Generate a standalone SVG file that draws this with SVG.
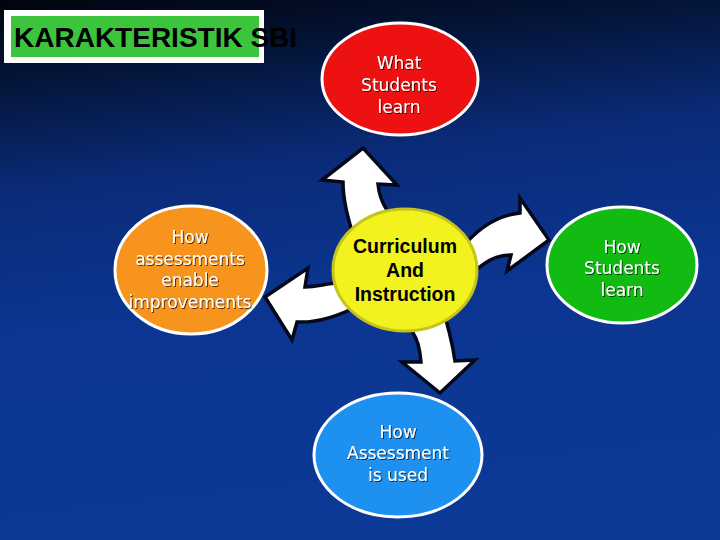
<svg xmlns="http://www.w3.org/2000/svg" width="720" height="540" viewBox="0 0 720 540">
<defs>
<linearGradient id="bg" x1="0" y1="0" x2="0.15" y2="1">
<stop offset="0" stop-color="#01040e"/>
<stop offset="0.15" stop-color="#041539"/>
<stop offset="0.35" stop-color="#0a2b78"/>
<stop offset="0.6" stop-color="#0b3590"/>
<stop offset="1" stop-color="#0c3896"/>
</linearGradient>
<filter id="sh" x="-10%" y="-20%" width="120%" height="140%">
<feDropShadow dx="1" dy="1" stdDeviation="0.4" flood-color="#000" flood-opacity="0.7"/>
</filter>
</defs>
<style>
.node{stroke:#ffffff;stroke-width:3}
.lbl{font-family:"DejaVu Sans","Verdana",sans-serif;font-size:17px;fill:#ffffff;text-anchor:middle;filter:url(#sh)}
.ctr{font-family:"Liberation Sans",Arial,sans-serif;font-weight:bold;font-size:19.5px;fill:#000;text-anchor:middle}
.arr{fill:#ffffff;stroke:#05081a;stroke-width:3.5;stroke-linejoin:miter}
</style>
<rect width="720" height="540" fill="url(#bg)"/>
<g id="title">
<rect x="4" y="10" width="260" height="53" fill="#ffffff"/>
<rect x="11" y="16" width="248" height="41" fill="#3cc43c"/>
<text x="14" y="47" font-family="'Liberation Sans',Arial,sans-serif" font-weight="bold" font-size="28" fill="#000">KARAKTERISTIK SBI</text>
</g>
<g id="connectors">
<path class="arr" d="M355,240 C348,220 343,200 343,182 L322,180 L363,148 L397,185 L378,184 C380,205 390,215 405,232 Z"/>
<path class="arr" d="M460,250 C480,225 500,215 520,213 L520,198 L549,240 L507,271 L511,255 C495,255 485,262 470,275 Z"/>
<path class="arr" d="M405,300 L413,333 C418,340 420,350 421,362 L402,362 L440,393 L475,360 L455,361 C452,340 448,325 440,300 Z"/>
<path class="arr" d="M360,285 C335,280 325,286 305,287 L308,268 L265,297 L292,340 L297,322 C315,323 335,318 360,305 Z"/>
</g>
<g id="what-students-learn">
<ellipse class="node" cx="400" cy="79" rx="78" ry="56" fill="#ee1111"/>
<text class="lbl" x="399" y="69">What</text>
<text class="lbl" x="399" y="91">Students</text>
<text class="lbl" x="399" y="113">learn</text>
</g>
<g id="how-assessments-enable">
<ellipse class="node" cx="191" cy="270" rx="76" ry="64" fill="#f7941d"/>
<text class="lbl" x="190" y="243">How</text>
<text class="lbl" x="190" y="265">assessments</text>
<text class="lbl" x="190" y="286">enable</text>
<text class="lbl" x="190" y="308">improvements</text>
</g>
<g id="how-students-learn">
<ellipse class="node" cx="622" cy="265" rx="75" ry="58" fill="#11bb11"/>
<text class="lbl" x="622" y="253">How</text>
<text class="lbl" x="622" y="274">Students</text>
<text class="lbl" x="622" y="296">learn</text>
</g>
<g id="how-assessment-used">
<ellipse class="node" cx="398" cy="455" rx="84" ry="62" fill="#1e90f0"/>
<text class="lbl" x="398" y="438">How</text>
<text class="lbl" x="398" y="459">Assessment</text>
<text class="lbl" x="398" y="481">is used</text>
</g>
<g id="curriculum">
<ellipse cx="405" cy="270" rx="72" ry="61" fill="#f2f21e" stroke="#c4c41c" stroke-width="3"/>
<text class="ctr" x="405" y="253">Curriculum</text>
<text class="ctr" x="405" y="277">And</text>
<text class="ctr" x="405" y="301">Instruction</text>
</g>
</svg>
